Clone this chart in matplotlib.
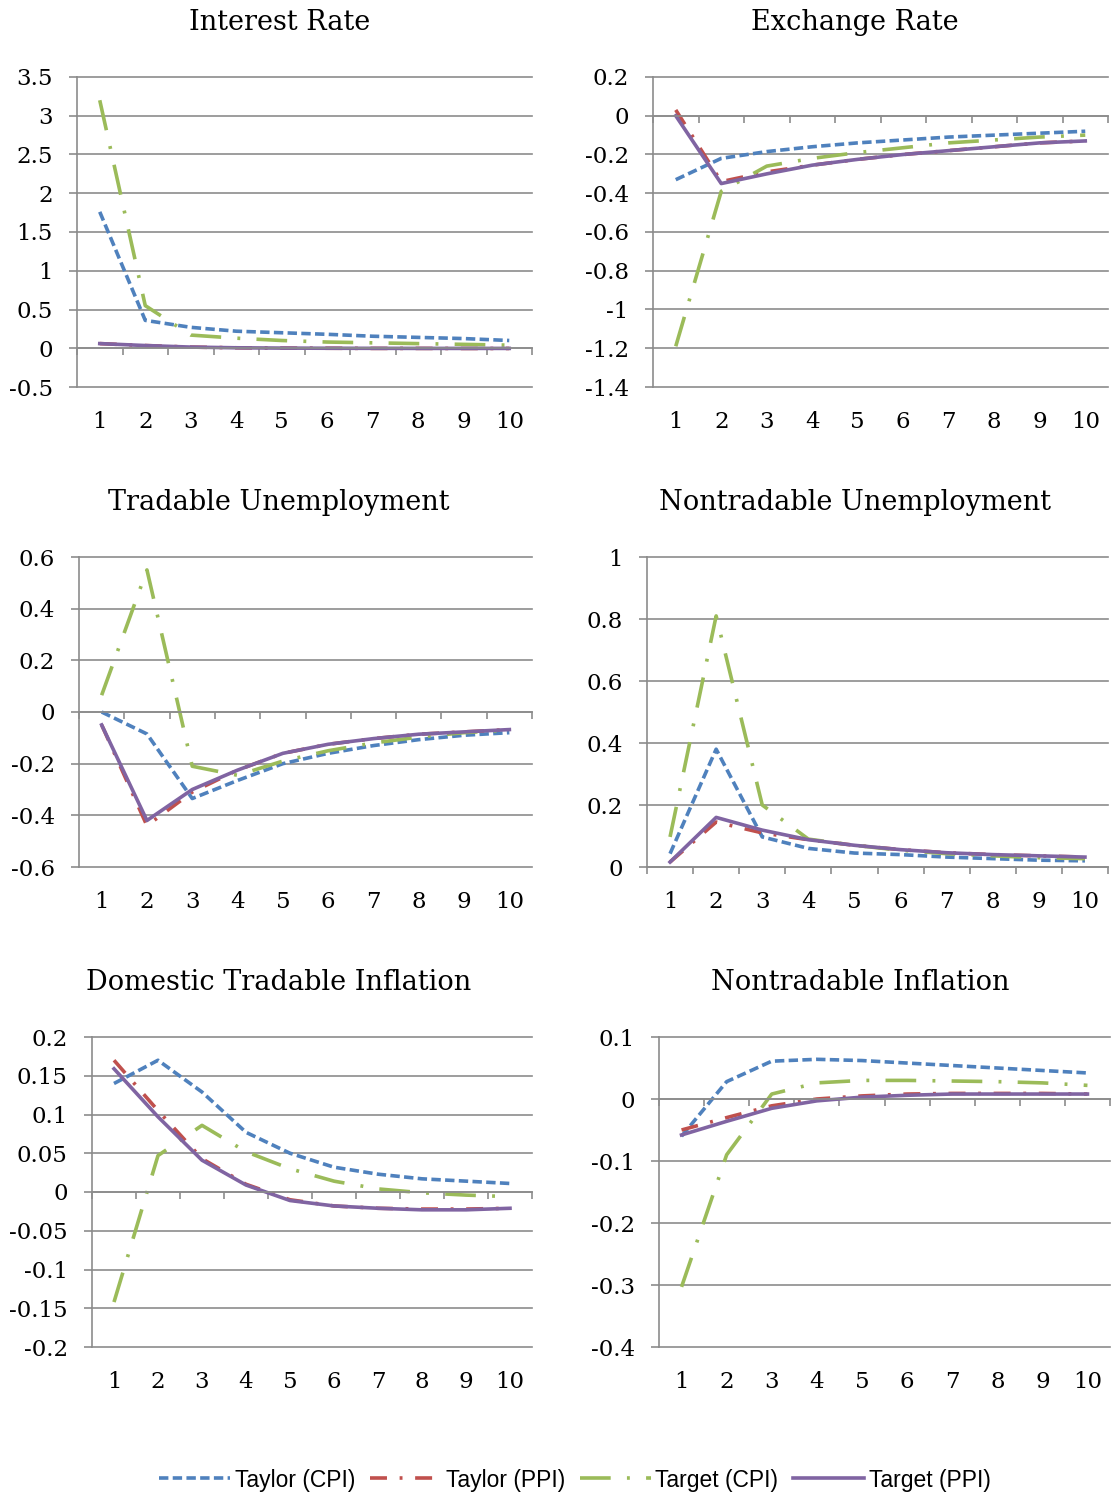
import matplotlib
matplotlib.use("Agg")
import matplotlib.pyplot as plt
from matplotlib.lines import Line2D
import numpy as np

periods = list(range(1, 11))
labels = ["Taylor (CPI)", "Taylor (PPI)", "Target (CPI)", "Target (PPI)"]

# Interest Rate
ir_tcpi = [1.76, 0.36, 0.27, 0.22, 0.20, 0.18, 0.155, 0.14, 0.125, 0.10]
ir_tppi = [0.06, 0.035, 0.015, 0.006, 0.002, 0.0, -0.002, -0.002, -0.003, -0.003]
ir_gcpi = [3.2, 0.55, 0.17, 0.13, 0.10, 0.08, 0.07, 0.06, 0.05, 0.04]
ir_gppi = [0.06, 0.035, 0.015, 0.006, 0.002, 0.0, -0.001, -0.002, -0.002, -0.002]

# Exchange Rate
er_tcpi = [-0.33, -0.22, -0.185, -0.16, -0.14, -0.125, -0.11, -0.10, -0.09, -0.08]
er_tppi = [0.03, -0.34, -0.29, -0.255, -0.225, -0.20, -0.18, -0.16, -0.14, -0.13]
er_gcpi = [-1.19, -0.39, -0.26, -0.22, -0.19, -0.165, -0.14, -0.125, -0.11, -0.10]
er_gppi = [0.0, -0.35, -0.30, -0.255, -0.225, -0.20, -0.18, -0.16, -0.14, -0.13]

# Tradable Unemployment
tu_tcpi = [0.0, -0.085, -0.335, -0.265, -0.20, -0.16, -0.13, -0.107, -0.09, -0.08]
tu_tppi = [-0.05, -0.44, -0.31, -0.225, -0.16, -0.125, -0.103, -0.086, -0.077, -0.068]
tu_gcpi = [0.065, 0.55, -0.21, -0.245, -0.19, -0.15, -0.12, -0.097, -0.08, -0.07]
tu_gppi = [-0.05, -0.42, -0.30, -0.225, -0.16, -0.125, -0.103, -0.086, -0.077, -0.068]

# Nontradable Unemployment
nu_tcpi = [0.043, 0.38, 0.097, 0.06, 0.045, 0.04, 0.032, 0.027, 0.022, 0.02]
nu_tppi = [0.016, 0.145, 0.11, 0.088, 0.07, 0.056, 0.046, 0.04, 0.036, 0.032]
nu_gcpi = [0.097, 0.81, 0.20, 0.09, 0.07, 0.054, 0.043, 0.036, 0.03, 0.027]
nu_gppi = [0.016, 0.16, 0.119, 0.088, 0.07, 0.056, 0.046, 0.04, 0.036, 0.032]

# Domestic Tradable Inflation
dt_tcpi = [0.14, 0.17, 0.129, 0.077, 0.05, 0.032, 0.023, 0.017, 0.014, 0.011]
dt_tppi = [0.17, 0.105, 0.043, 0.01, -0.01, -0.018, -0.021, -0.022, -0.022, -0.021]
dt_gcpi = [-0.142, 0.047, 0.086, 0.052, 0.03, 0.014, 0.004, -0.001, -0.004, -0.006]
dt_gppi = [0.159, 0.097, 0.041, 0.009, -0.011, -0.018, -0.021, -0.023, -0.023, -0.021]

# Nontradable Inflation
ni_tcpi = [-0.06, 0.028, 0.061, 0.064, 0.062, 0.058, 0.054, 0.05, 0.046, 0.042]
ni_tppi = [-0.05, -0.03, -0.011, 0.0, 0.005, 0.008, 0.009, 0.009, 0.009, 0.008]
ni_gcpi = [-0.303, -0.09, 0.008, 0.026, 0.03, 0.03, 0.029, 0.028, 0.026, 0.022]
ni_gppi = [-0.058, -0.036, -0.015, -0.003, 0.003, 0.006, 0.008, 0.008, 0.008, 0.008]

colors = ["#4F81BD", "#C0504D", "#9BBB59", "#8064A2"]
styles = [(0, (2.6, 1.2)), (0, (4.7, 3.5, 0.8, 3.5)), (0, (8.5, 4.5, 0.8, 4.5)), "-"]
lw = 2.6
grey = "#8c8c8c"
serif = "DejaVu Serif"

W, H = 1114, 1497
fig = plt.figure(figsize=(W / 100, H / 100), dpi=100)


def panel(box, title, title_x, title_y, series, ymin, ymax, step):
    l, t, r, b = box
    ax = fig.add_axes([l / W, 1 - b / H, (r - l) / W, (b - t) / H])
    for s, c, ls in zip(series, colors, styles):
        ax.plot(periods, s, color=c, ls=ls, lw=lw)
    ax.set_xlim(0.5, 10.5)
    ax.set_ylim(ymin, ymax)
    ticks = np.round(np.arange(ymin, ymax + step / 2, step), 3)
    ax.set_yticks(ticks)
    ax.set_yticklabels(["%g" % v if v != 0 else "0" for v in ticks],
                       fontfamily=serif, fontsize=16.5)
    ax.yaxis.grid(True, color=grey, lw=1.2)
    for g in ax.get_ygridlines():
        g.set_clip_on(False)
    ax.tick_params(axis="y", direction="out", length=5.5, width=1.2,
                   color=grey, pad=12)
    ax.set_xticks(np.arange(0.5, 11, 1))
    ax.set_xticklabels([])
    ax.tick_params(axis="x", direction="out", length=5, width=1.2, color=grey)
    for sp in ["top", "right"]:
        ax.spines[sp].set_visible(False)
    ax.spines["left"].set_color(grey)
    ax.spines["left"].set_linewidth(1.2)
    ax.spines["bottom"].set_color(grey)
    ax.spines["bottom"].set_linewidth(1.2)
    if ymin < 0:
        ax.spines["bottom"].set_position(("data", 0))
    for p in periods:
        ax.text(p, -35 / (b - t), str(p), transform=ax.get_xaxis_transform(),
                ha="center", va="center", fontfamily=serif, fontsize=16.5)
    fig.text(title_x / W, 1 - title_y / H, title, ha="center", va="center",
             fontfamily=serif, fontsize=19.5)
    return ax


panel((77, 77, 532, 387), "Interest Rate", 280, 22,
      [ir_tcpi, ir_tppi, ir_gcpi, ir_gppi], -0.5, 3.5, 0.5)
panel((653, 77, 1108, 387), "Exchange Rate", 855, 22,
      [er_tcpi, er_tppi, er_gcpi, er_gppi], -1.4, 0.2, 0.2)
panel((79, 557, 532, 867), "Tradable Unemployment", 279, 502,
      [tu_tcpi, tu_tppi, tu_gcpi, tu_gppi], -0.6, 0.6, 0.2)
panel((647, 557, 1108, 867), "Nontradable Unemployment", 855, 502,
      [nu_tcpi, nu_tppi, nu_gcpi, nu_gppi], 0, 1.0, 0.2)
panel((92, 1037, 532, 1347), "Domestic Tradable Inflation", 279, 982,
      [dt_tcpi, dt_tppi, dt_gcpi, dt_gppi], -0.2, 0.2, 0.05)
panel((659, 1037, 1110, 1347), "Nontradable Inflation", 860, 982,
      [ni_tcpi, ni_tppi, ni_gcpi, ni_gppi], -0.4, 0.1, 0.1)

handles = [Line2D([], [], color=c, ls=ls, lw=lw) for c, ls in zip(colors, styles)]
fig.legend(handles, labels, loc="center", bbox_to_anchor=(575 / W, 1 - 1480 / H),
           ncol=4, frameon=False, handlelength=3.1, handletextpad=0.2,
           columnspacing=0.65, prop={"family": "Liberation Sans", "size": 16.5})

fig.savefig("out.png", dpi=100)
